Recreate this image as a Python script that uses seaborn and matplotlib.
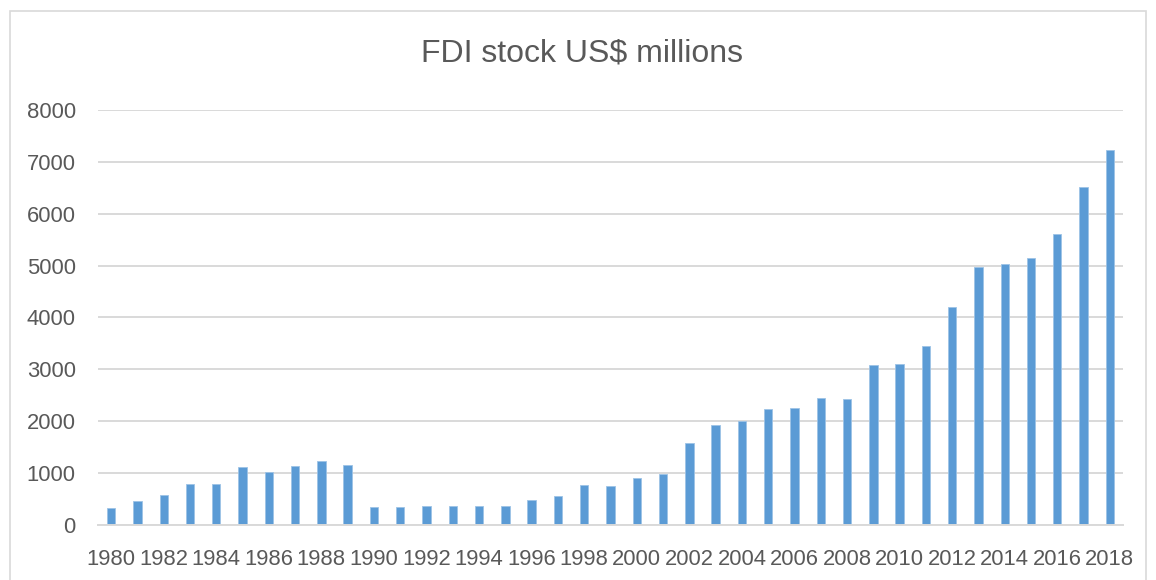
import matplotlib
matplotlib.use("Agg")
import matplotlib.pyplot as plt
import seaborn as sns
import pandas as pd
from matplotlib.patches import Rectangle

years = list(range(1980, 2019))
fdi_stock = [330, 460, 570, 785, 800, 1120, 1030, 1140, 1235, 1150,
             355, 340, 372, 372, 366, 372, 475, 552, 764, 751,
             905, 983, 1590, 1925, 2000, 2240, 2260, 2450, 2420, 3090,
             3095, 3450, 4200, 4970, 5040, 5140, 5600, 6525, 7220]
title = "FDI stock US$ millions"
y_ticks = [0, 1000, 2000, 3000, 4000, 5000, 6000, 7000, 8000]

df = pd.DataFrame({"year": [str(y) for y in years], "value": fdi_stock})

sns.set_theme(style="white")
plt.rcParams['font.family'] = ['Liberation Sans', 'DejaVu Sans']

fig = plt.figure(figsize=(11.56, 5.8), dpi=100)
ax = fig.add_axes([98/1156, 1 - 525/580, (1123 - 98)/1156, (525 - 110)/580])

bar_color = "#5B9BD5"
sns.barplot(data=df, x="year", y="value", color=bar_color, width=0.32,
            saturation=1, ax=ax, edgecolor="#9DC3E6", linewidth=0.6)

ax.set_ylim(0, 8000)
ax.set_xlim(-0.5, len(years) - 0.5)
ax.set_yticks(y_ticks)
ax.set_yticklabels([str(v) for v in y_ticks])
ax.set_xticks(range(len(years)))
ax.set_xticklabels([str(y) if i % 2 == 0 else "" for i, y in enumerate(years)])
ax.grid(axis="y", color="#d9d9d9", linewidth=1.4)
ax.set_axisbelow(True)
for s in ["top", "right", "left"]:
    ax.spines[s].set_visible(False)
ax.spines["bottom"].set_color("#d9d9d9")
ax.spines["bottom"].set_linewidth(1.4)
ax.tick_params(axis="y", length=0, pad=16, labelsize=15.8, labelcolor="#595959")
ax.tick_params(axis="x", length=0, pad=17, labelsize=15.8, labelcolor="#595959")
ax.set_xlabel("")
ax.set_ylabel("")

fig.text(582/1156, 1 - 54/580, title, ha="center", va="center",
         fontsize=23, color="#595959")

fig.patches.append(Rectangle((10/1156, -0.05), (1146 - 10)/1156, 1.05 - 11/580,
                             transform=fig.transFigure, fill=False,
                             edgecolor="#d9d9d9", linewidth=1.2))

fig.savefig("out.png", dpi=100, facecolor="white")
